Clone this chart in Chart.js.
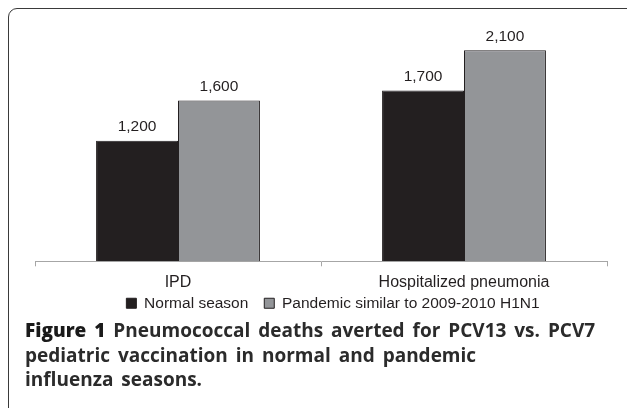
<!DOCTYPE html>
<html>
<head>
<meta charset="utf-8">
<script src="https://cdn.jsdelivr.net/npm/chart.js@4"></script>
<style>
  html, body { margin: 0; padding: 0; background: #fff; }
  body { width: 627px; height: 408px; overflow: hidden; position: relative; }
  .frame {
    position: absolute; left: 8px; top: 8px; width: 640px; height: 430px;
    border: 1.5px solid #3a3a3a; border-radius: 9px; box-sizing: border-box;
  }
  #chart { position: absolute; left: 0; top: 0; }
  .caption {
    position: absolute; left: 25px; top: 318px; width: 600px;
    font-family: "Open Sans", sans-serif; font-weight: 700; font-size: 19px;
    line-height: 24.5px; word-spacing: 3px; color: #2b2b2b; white-space: nowrap;
  }
  .caption b { color: #1a1a1a; }
</style>
</head>
<body>
<div class="frame"></div>
<canvas id="chart" width="627" height="328"></canvas>
<div class="caption"><b>Figure 1</b> Pneumococcal deaths averted for PCV13 vs. PCV7<br>pediatric vaccination in normal and pandemic<br>influenza seasons.</div>
<script>
const categories = ['IPD', 'Hospitalized pneumonia'];
const seriesNames = ['Normal season', 'Pandemic similar to 2009-2010 H1N1'];
const normalSeason = [1200, 1700];
const pandemicSeason = [1600, 2100];

const FONT = '"Liberation Sans", Arial, sans-serif';
const INK = '#231f20';

// value labels over each bar, positioned from the bar elements
const valueLabels = {
  id: 'valueLabels',
  afterDatasetsDraw(chart) {
    const ctx = chart.ctx;
    ctx.save();
    ctx.font = '15.5px ' + FONT;
    ctx.fillStyle = INK;
    ctx.textAlign = 'center';
    ctx.textBaseline = 'bottom';
    chart.data.datasets.forEach((ds, i) => {
      chart.getDatasetMeta(i).data.forEach((bar, j) => {
        ctx.fillText(ds.data[j].toLocaleString('en-US'), bar.x, bar.y - 6);
      });
    });
    ctx.restore();
  }
};

// legend sits a bit right of centre and tight under the labels in the original
const legendNudge = {
  id: 'legendNudge',
  afterLayout(chart) {
    const lg = chart.legend;
    lg.left += 12;
    lg.right += 12;
    lg.top -= 7;
    lg.bottom -= 7;
  }
};

new Chart(document.getElementById('chart'), {
  type: 'bar',
  data: {
    labels: categories,
    datasets: [
      {
        label: seriesNames[0],
        data: normalSeason,
        backgroundColor: INK,
        borderColor: INK,
        borderWidth: 1
      },
      {
        label: seriesNames[1],
        data: pandemicSeason,
        backgroundColor: '#939598',
        borderColor: INK,
        borderWidth: 1
      }
    ]
  },
  options: {
    responsive: false,
    animation: false,
    categoryPercentage: 0.573,
    barPercentage: 1,
    layout: { padding: { top: 10, left: 35, right: 20, bottom: 0 } },
    plugins: {
      tooltip: { enabled: false },
      legend: {
        position: 'bottom',
        labels: {
          boxWidth: 10,
          boxHeight: 10,
          padding: 3,
          color: INK,
          font: { family: FONT, size: 15.5 },
          generateLabels(chart) {
            const items = Chart.defaults.plugins.legend.labels.generateLabels(chart);
            items[0].text = items[0].text + '   ';
            return items;
          }
        }
      }
    },
    scales: {
      y: { display: false, min: 0, max: 2500 },
      x: {
        grid: {
          drawOnChartArea: false,
          tickLength: 5,
          color: '#a6a6a6'
        },
        border: { color: '#a6a6a6' },
        ticks: {
          padding: 7,
          color: INK,
          font: { family: FONT, size: 16 }
        }
      }
    }
  },
  plugins: [valueLabels, legendNudge]
});
</script>
</body>
</html>
